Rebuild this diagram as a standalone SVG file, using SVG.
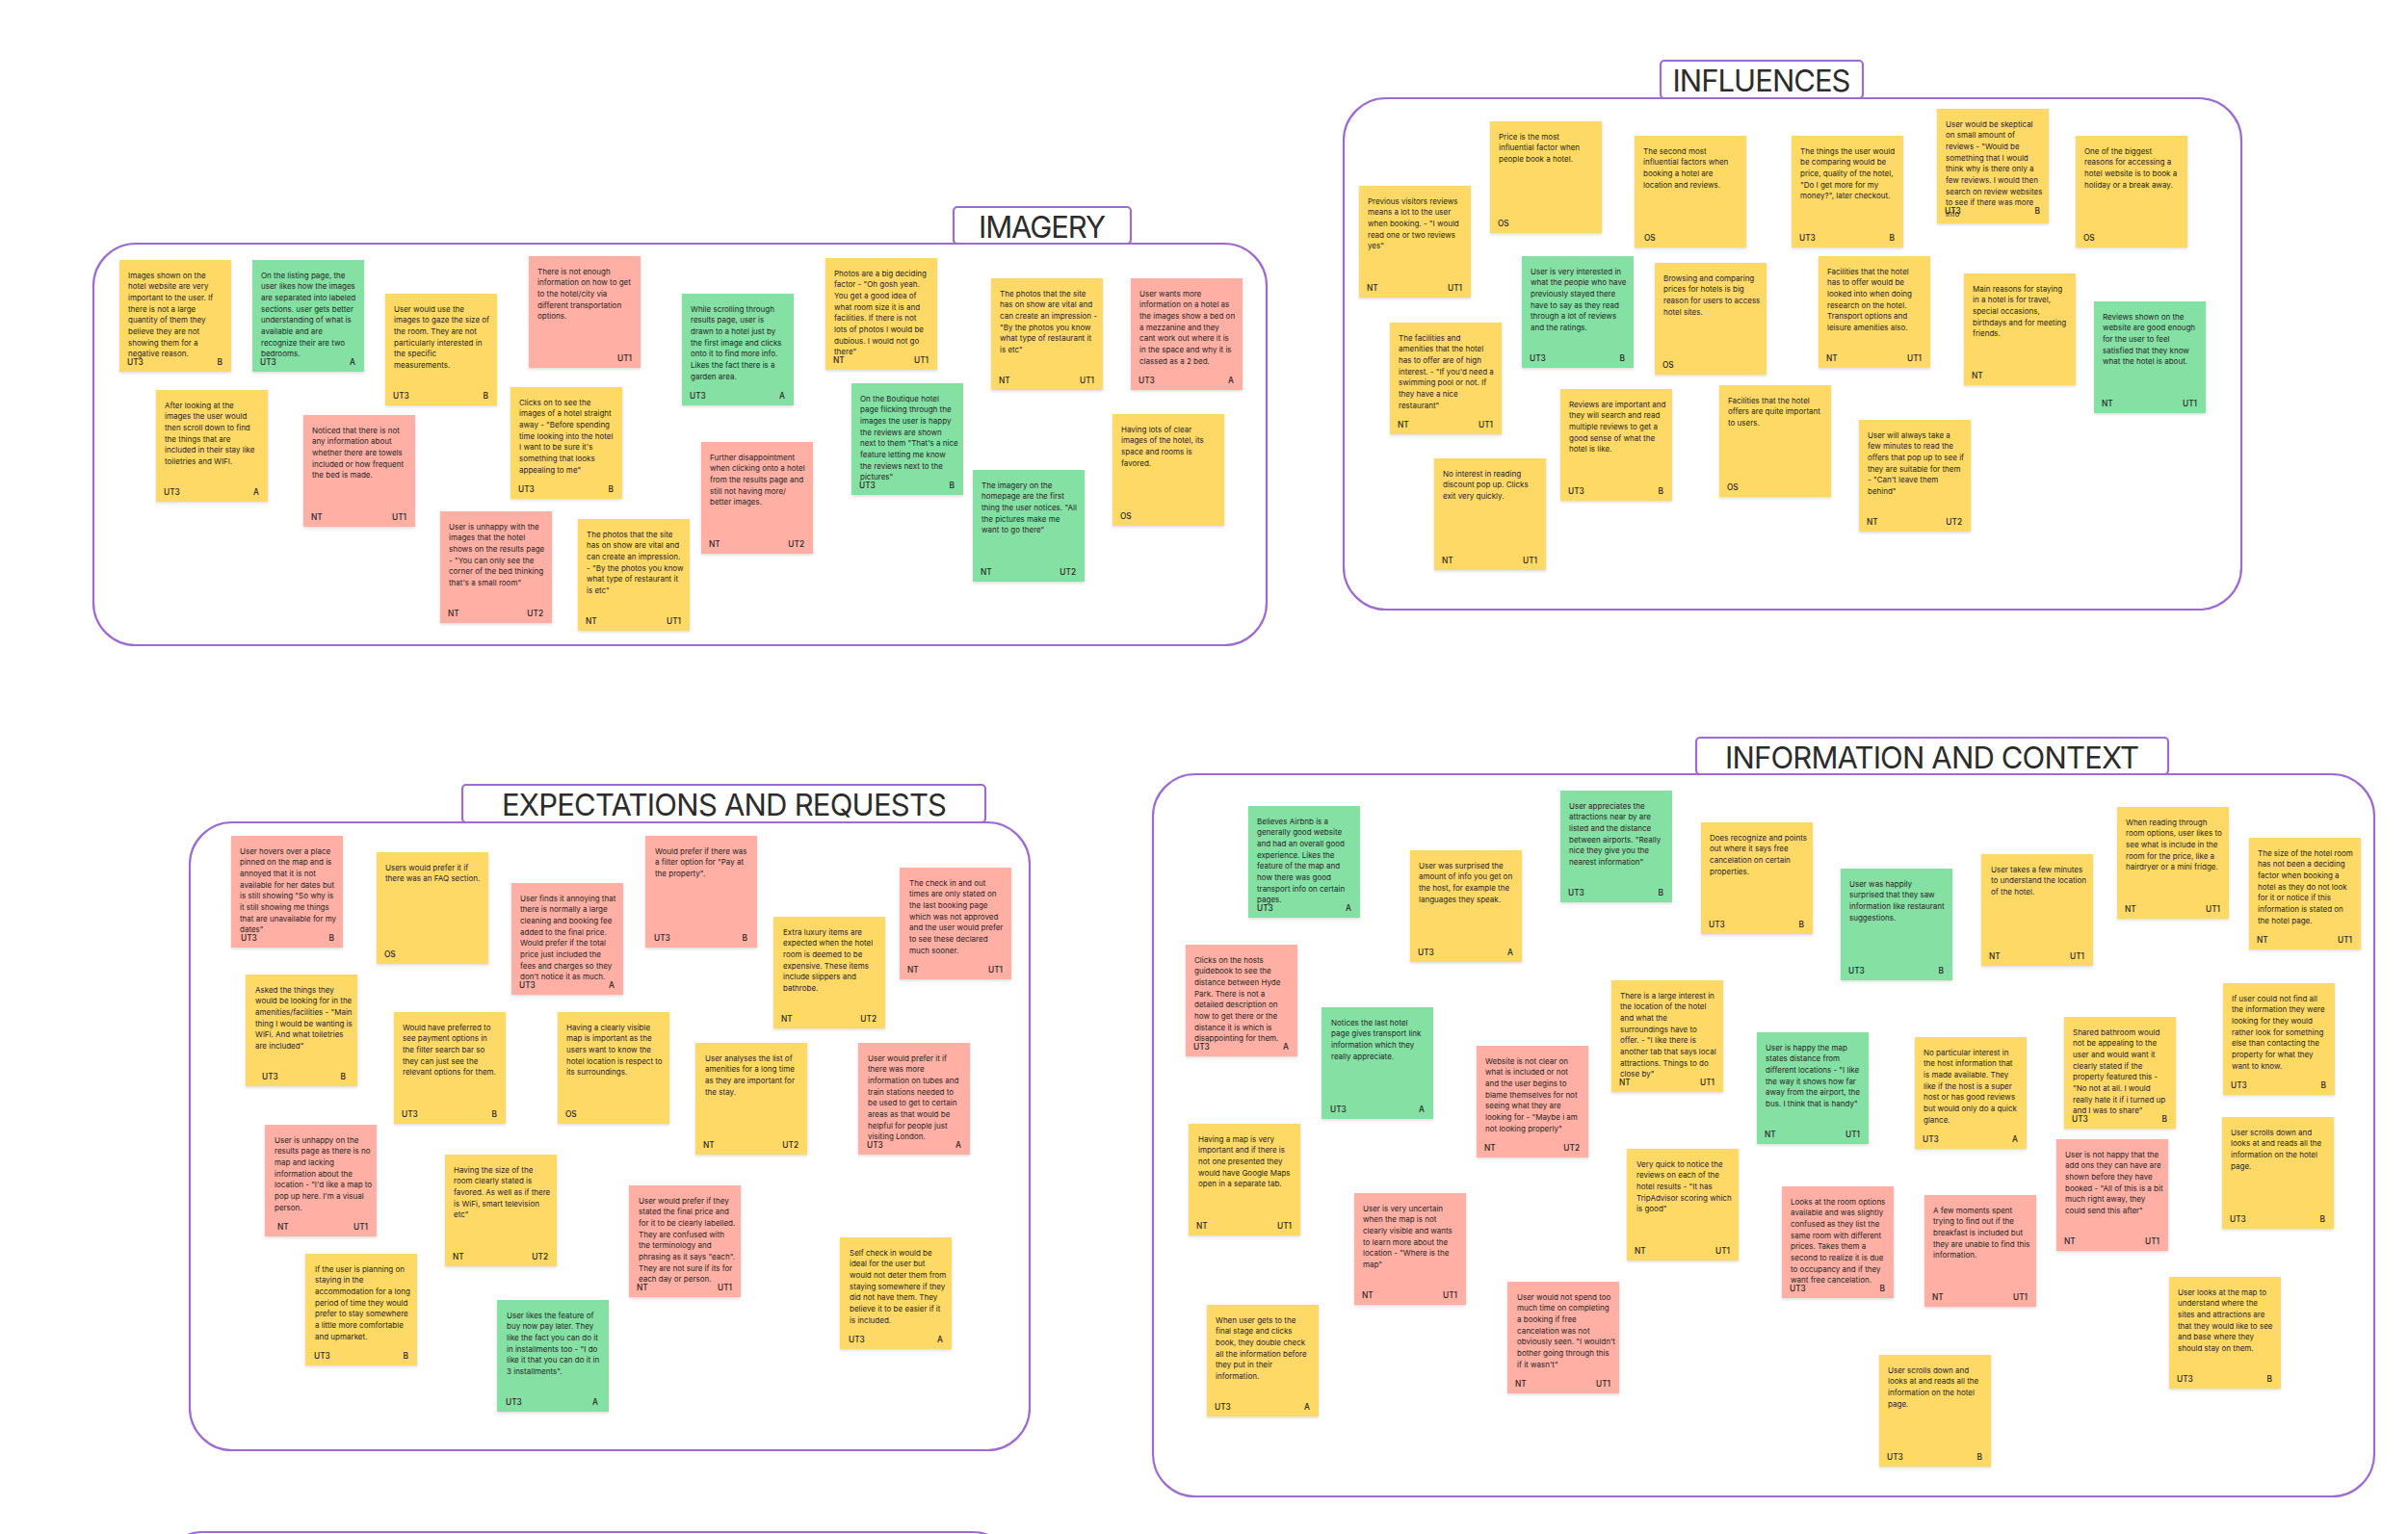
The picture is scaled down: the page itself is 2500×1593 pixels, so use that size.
<svg xmlns="http://www.w3.org/2000/svg" width="2500" height="1593" viewBox="0 0 2500 1593">
<defs>
<filter id="sh" x="-10%" y="-10%" width="125%" height="125%"><feDropShadow dx="0" dy="1.5" stdDeviation="1.4" flood-color="#000" flood-opacity="0.14"/></filter>
</defs>
<style>
.frame{fill:none;stroke:#9d6bd3;stroke-width:2.2}
.tbox{fill:#fff;stroke:#9d6bd3;stroke-width:2.2}
.title{font-family:Inter,"Liberation Sans",sans-serif;font-size:31px;fill:#2c2c2c;text-anchor:middle}
.n{filter:url(#sh)}
.y{fill:#FFD966}.g{fill:#85E0A3}.r{fill:#FFAFA3}
.t{font-family:Inter,"Liberation Sans",sans-serif;font-size:8px;fill:#262626}
.f{font-family:Inter,"Liberation Sans",sans-serif;font-size:8.3px;font-weight:500;fill:#262626}
.e{text-anchor:end}
</style>
<rect width="2500" height="1593" fill="#fff"/>

<g id="frames">
<rect class="frame" x="97" y="253" width="1218" height="417" rx="44"/>
<rect class="tbox" x="990" y="215" width="184" height="38" rx="4"/>
<text class="title" x="1082" y="246.7" textLength="132">IMAGERY</text>
<rect class="frame" x="1395" y="102" width="932" height="531" rx="44"/>
<rect class="tbox" x="1724" y="63" width="210" height="39" rx="4"/>
<text class="title" x="1829" y="94.5" textLength="185">INFLUENCES</text>
<rect class="frame" x="197" y="854" width="872" height="652" rx="44"/>
<rect class="tbox" x="480" y="815" width="543" height="39" rx="4"/>
<text class="title" x="752" y="846.6" textLength="462">EXPECTATIONS AND REQUESTS</text>
<rect class="frame" x="1197" y="804" width="1268" height="750" rx="44"/>
<rect class="tbox" x="1761" y="766" width="490" height="38" rx="4"/>
<text class="title" x="2006" y="797.5" textLength="430">INFORMATION AND CONTEXT</text>
<rect class="frame" x="170" y="1591" width="880" height="120" rx="40"/>
</g>

<g id="connectors"></g>

<!-- IMAGERY -->
<g id="im1" transform="translate(124,270)"><rect class="n y" width="116" height="116"/><text class="t"><tspan x="9" y="18.5">Images shown on the</tspan><tspan x="9" y="30.2">hotel website are very</tspan><tspan x="9" y="41.8">important to the user. If</tspan><tspan x="9" y="53.5">there is not a large</tspan><tspan x="9" y="65.2">quantity of them they</tspan><tspan x="9" y="76.8">believe they are not</tspan><tspan x="9" y="88.5">showing them for a</tspan><tspan x="9" y="100.2">negative reason.</tspan></text><text class="f" x="8" y="108.5">UT3</text><text class="f e" x="107" y="108.5">B</text></g>
<g id="im2" transform="translate(262,270)"><rect class="n g" width="116" height="116"/><text class="t"><tspan x="9" y="18.5">On the listing page, the</tspan><tspan x="9" y="30.2">user likes how the images</tspan><tspan x="9" y="41.8">are separated into labeled</tspan><tspan x="9" y="53.5">sections. user gets better</tspan><tspan x="9" y="65.2">understanding of what is</tspan><tspan x="9" y="76.8">available and are</tspan><tspan x="9" y="88.5">recognize their are two</tspan><tspan x="9" y="100.2">bedrooms.</tspan></text><text class="f" x="8" y="108.5">UT3</text><text class="f e" x="107" y="108.5">A</text></g>
<g id="im3" transform="translate(400,305)"><rect class="n y" width="116" height="116"/><text class="t"><tspan x="9" y="18.5">User would use the</tspan><tspan x="9" y="30.2">images to gaze the size of</tspan><tspan x="9" y="41.8">the room. They are not</tspan><tspan x="9" y="53.5">particularly interested in</tspan><tspan x="9" y="65.2">the specific</tspan><tspan x="9" y="76.8">measurements.</tspan></text><text class="f" x="8" y="108.5">UT3</text><text class="f e" x="107" y="108.5">B</text></g>
<g id="im4" transform="translate(549,266)"><rect class="n r" width="116" height="116"/><text class="t"><tspan x="9" y="18.5">There is not enough</tspan><tspan x="9" y="30.2">information on how to get</tspan><tspan x="9" y="41.8">to the hotel/city via</tspan><tspan x="9" y="53.5">different transportation</tspan><tspan x="9" y="65.2">options.</tspan></text><text class="f e" x="107" y="108.5">UT1</text></g>
<g id="im5" transform="translate(162,405)"><rect class="n y" width="116" height="116"/><text class="t"><tspan x="9" y="18.5">After looking at the</tspan><tspan x="9" y="30.2">images the user would</tspan><tspan x="9" y="41.8">then scroll down to find</tspan><tspan x="9" y="53.5">the things that are</tspan><tspan x="9" y="65.2">included in their stay like</tspan><tspan x="9" y="76.8">toiletries and WIFI.</tspan></text><text class="f" x="8" y="108.5">UT3</text><text class="f e" x="107" y="108.5">A</text></g>
<g id="im6" transform="translate(315,431)"><rect class="n r" width="116" height="116"/><text class="t"><tspan x="9" y="18.5">Noticed that there is not</tspan><tspan x="9" y="30.2">any information about</tspan><tspan x="9" y="41.8">whether there are towels</tspan><tspan x="9" y="53.5">included or how frequent</tspan><tspan x="9" y="65.2">the bed is made.</tspan></text><text class="f" x="8" y="108.5">NT</text><text class="f e" x="107" y="108.5">UT1</text></g>
<g id="im7" transform="translate(530,402)"><rect class="n y" width="116" height="116"/><text class="t"><tspan x="9" y="18.5">Clicks on to see the</tspan><tspan x="9" y="30.2">images of a hotel straight</tspan><tspan x="9" y="41.8">away - "Before spending</tspan><tspan x="9" y="53.5">time looking into the hotel</tspan><tspan x="9" y="65.2">I want to be sure it's</tspan><tspan x="9" y="76.8">something that looks</tspan><tspan x="9" y="88.5">appealing to me"</tspan></text><text class="f" x="8" y="108.5">UT3</text><text class="f e" x="107" y="108.5">B</text></g>
<g id="im8" transform="translate(457,531)"><rect class="n r" width="116" height="116"/><text class="t"><tspan x="9" y="18.5">User is unhappy with the</tspan><tspan x="9" y="30.2">images that the hotel</tspan><tspan x="9" y="41.8">shows on the results page</tspan><tspan x="9" y="53.5">- "You can only see the</tspan><tspan x="9" y="65.2">corner of the bed thinking</tspan><tspan x="9" y="76.8">that's a small room"</tspan></text><text class="f" x="8" y="108.5">NT</text><text class="f e" x="107" y="108.5">UT2</text></g>
<g id="im9" transform="translate(600,539)"><rect class="n y" width="116" height="116"/><text class="t"><tspan x="9" y="18.5">The photos that the site</tspan><tspan x="9" y="30.2">has on show are vital and</tspan><tspan x="9" y="41.8">can create an impression.</tspan><tspan x="9" y="53.5">- "By the photos you know</tspan><tspan x="9" y="65.2">what type of restaurant it</tspan><tspan x="9" y="76.8">is etc"</tspan></text><text class="f" x="8" y="108.5">NT</text><text class="f e" x="107" y="108.5">UT1</text></g>
<g id="im10" transform="translate(708,305)"><rect class="n g" width="116" height="116"/><text class="t"><tspan x="9" y="18.5">While scrolling through</tspan><tspan x="9" y="30.2">results page, user is</tspan><tspan x="9" y="41.8">drawn to a hotel just by</tspan><tspan x="9" y="53.5">the first image and clicks</tspan><tspan x="9" y="65.2">onto it to find more info.</tspan><tspan x="9" y="76.8">Likes the fact there is a</tspan><tspan x="9" y="88.5">garden area.</tspan></text><text class="f" x="8" y="108.5">UT3</text><text class="f e" x="107" y="108.5">A</text></g>
<g id="im11" transform="translate(857,268)"><rect class="n y" width="116" height="116"/><text class="t"><tspan x="9" y="18.5">Photos are a big deciding</tspan><tspan x="9" y="30.2">factor - "Oh gosh yeah.</tspan><tspan x="9" y="41.8">You get a good idea of</tspan><tspan x="9" y="53.5">what room size it is and</tspan><tspan x="9" y="65.2">facilities. If there is not</tspan><tspan x="9" y="76.8">lots of photos I would be</tspan><tspan x="9" y="88.5">dubious. I would not go</tspan><tspan x="9" y="100.2">there"</tspan></text><text class="f" x="8" y="108.5">NT</text><text class="f e" x="107" y="108.5">UT1</text></g>
<g id="im12" transform="translate(1029,289)"><rect class="n y" width="116" height="116"/><text class="t"><tspan x="9" y="18.5">The photos that the site</tspan><tspan x="9" y="30.2">has on show are vital and</tspan><tspan x="9" y="41.8">can create an impression -</tspan><tspan x="9" y="53.5">"By the photos you know</tspan><tspan x="9" y="65.2">what type of restaurant it</tspan><tspan x="9" y="76.8">is etc"</tspan></text><text class="f" x="8" y="108.5">NT</text><text class="f e" x="107" y="108.5">UT1</text></g>
<g id="im13" transform="translate(1174,289)"><rect class="n r" width="116" height="116"/><text class="t"><tspan x="9" y="18.5">User wants more</tspan><tspan x="9" y="30.2">information on a hotel as</tspan><tspan x="9" y="41.8">the images show a bed on</tspan><tspan x="9" y="53.5">a mezzanine and they</tspan><tspan x="9" y="65.2">cant work out where it is</tspan><tspan x="9" y="76.8">in the space and why it is</tspan><tspan x="9" y="88.5">classed as a 2 bed.</tspan></text><text class="f" x="8" y="108.5">UT3</text><text class="f e" x="107" y="108.5">A</text></g>
<g id="im14" transform="translate(884,398)"><rect class="n g" width="116" height="116"/><text class="t"><tspan x="9" y="18.5">On the Boutique hotel</tspan><tspan x="9" y="30.2">page flicking through the</tspan><tspan x="9" y="41.8">images the user is happy</tspan><tspan x="9" y="53.5">the reviews are shown</tspan><tspan x="9" y="65.2">next to them "That's a nice</tspan><tspan x="9" y="76.8">feature letting me know</tspan><tspan x="9" y="88.5">the reviews next to the</tspan><tspan x="9" y="100.2">pictures"</tspan></text><text class="f" x="8" y="108.5">UT3</text><text class="f e" x="107" y="108.5">B</text></g>
<g id="im15" transform="translate(728,459)"><rect class="n r" width="116" height="116"/><text class="t"><tspan x="9" y="18.5">Further disappointment</tspan><tspan x="9" y="30.2">when clicking onto a hotel</tspan><tspan x="9" y="41.8">from the results page and</tspan><tspan x="9" y="53.5">still not having more/</tspan><tspan x="9" y="65.2">better images.</tspan></text><text class="f" x="8" y="108.5">NT</text><text class="f e" x="107" y="108.5">UT2</text></g>
<g id="im16" transform="translate(1155,430)"><rect class="n y" width="116" height="116"/><text class="t"><tspan x="9" y="18.5">Having lots of clear</tspan><tspan x="9" y="30.2">images of the hotel, its</tspan><tspan x="9" y="41.8">space and rooms is</tspan><tspan x="9" y="53.5">favored.</tspan></text><text class="f" x="8" y="108.5">OS</text></g>
<g id="im17" transform="translate(1010,488)"><rect class="n g" width="116" height="116"/><text class="t"><tspan x="9" y="18.5">The imagery on the</tspan><tspan x="9" y="30.2">homepage are the first</tspan><tspan x="9" y="41.8">thing the user notices. "All</tspan><tspan x="9" y="53.5">the pictures make me</tspan><tspan x="9" y="65.2">want to go there"</tspan></text><text class="f" x="8" y="108.5">NT</text><text class="f e" x="107" y="108.5">UT2</text></g>

<!-- INFLUENCES -->
<g id="inf1" transform="translate(1411,193)"><rect class="n y" width="116" height="116"/><text class="t"><tspan x="9" y="18.5">Previous visitors reviews</tspan><tspan x="9" y="30.2">means a lot to the user</tspan><tspan x="9" y="41.8">when booking. - "I would</tspan><tspan x="9" y="53.5">read one or two reviews</tspan><tspan x="9" y="65.2">yes"</tspan></text><text class="f" x="8" y="108.5">NT</text><text class="f e" x="107" y="108.5">UT1</text></g>
<g id="inf2" transform="translate(1547,126)"><rect class="n y" width="116" height="116"/><text class="t"><tspan x="9" y="18.5">Price is the most</tspan><tspan x="9" y="30.2">influential factor when</tspan><tspan x="9" y="41.8">people book a hotel.</tspan></text><text class="f" x="8" y="108.5">OS</text></g>
<g id="inf3" transform="translate(1697,141)"><rect class="n y" width="116" height="116"/><text class="t"><tspan x="9" y="18.5">The second most</tspan><tspan x="9" y="30.2">influential factors when</tspan><tspan x="9" y="41.8">booking a hotel are</tspan><tspan x="9" y="53.5">location and reviews.</tspan></text><text class="f" x="10" y="108.5">OS</text></g>
<g id="inf4" transform="translate(1580,266)"><rect class="n g" width="116" height="116"/><text class="t"><tspan x="9" y="18.5">User is very interested in</tspan><tspan x="9" y="30.2">what the people who have</tspan><tspan x="9" y="41.8">previously stayed there</tspan><tspan x="9" y="53.5">have to say as they read</tspan><tspan x="9" y="65.2">through a lot of reviews</tspan><tspan x="9" y="76.8">and the ratings.</tspan></text><text class="f" x="8" y="108.5">UT3</text><text class="f e" x="107" y="108.5">B</text></g>
<g id="inf5" transform="translate(1718,273)"><rect class="n y" width="116" height="116"/><text class="t"><tspan x="9" y="18.5">Browsing and comparing</tspan><tspan x="9" y="30.2">prices for hotels is big</tspan><tspan x="9" y="41.8">reason for users to access</tspan><tspan x="9" y="53.5">hotel sites.</tspan></text><text class="f" x="8" y="108.5">OS</text></g>
<g id="inf6" transform="translate(1443,335)"><rect class="n y" width="116" height="116"/><text class="t"><tspan x="9" y="18.5">The facilities and</tspan><tspan x="9" y="30.2">amenities that the hotel</tspan><tspan x="9" y="41.8">has to offer are of high</tspan><tspan x="9" y="53.5">interest. - "If you'd need a</tspan><tspan x="9" y="65.2">swimming pool or not. If</tspan><tspan x="9" y="76.8">they have a nice</tspan><tspan x="9" y="88.5">restaurant"</tspan></text><text class="f" x="8" y="108.5">NT</text><text class="f e" x="107" y="108.5">UT1</text></g>
<g id="inf7" transform="translate(1620,404)"><rect class="n y" width="116" height="116"/><text class="t"><tspan x="9" y="18.5">Reviews are important and</tspan><tspan x="9" y="30.2">they will search and read</tspan><tspan x="9" y="41.8">multiple reviews to get a</tspan><tspan x="9" y="53.5">good sense of what the</tspan><tspan x="9" y="65.2">hotel is like.</tspan></text><text class="f" x="8" y="108.5">UT3</text><text class="f e" x="107" y="108.5">B</text></g>
<g id="inf8" transform="translate(1785,400)"><rect class="n y" width="116" height="116"/><text class="t"><tspan x="9" y="18.5">Facilities that the hotel</tspan><tspan x="9" y="30.2">offers are quite important</tspan><tspan x="9" y="41.8">to users.</tspan></text><text class="f" x="8" y="108.5">OS</text></g>
<g id="inf9" transform="translate(1489,476)"><rect class="n y" width="116" height="116"/><text class="t"><tspan x="9" y="18.5">No interest in reading</tspan><tspan x="9" y="30.2">discount pop up. Clicks</tspan><tspan x="9" y="41.8">exit very quickly.</tspan></text><text class="f" x="8" y="108.5">NT</text><text class="f e" x="107" y="108.5">UT1</text></g>
<g id="inf10" transform="translate(1860,141)"><rect class="n y" width="116" height="116"/><text class="t"><tspan x="9" y="18.5">The things the user would</tspan><tspan x="9" y="30.2">be comparing would be</tspan><tspan x="9" y="41.8">price, quality of the hotel,</tspan><tspan x="9" y="53.5">"Do I get more for my</tspan><tspan x="9" y="65.2">money?", later checkout.</tspan></text><text class="f" x="8" y="108.5">UT3</text><text class="f e" x="107" y="108.5">B</text></g>
<g id="inf11" transform="translate(2011,113)"><rect class="n y" width="116" height="119"/><text class="t"><tspan x="9" y="18.5">User would be skeptical</tspan><tspan x="9" y="30.2">on small amount of</tspan><tspan x="9" y="41.8">reviews - "Would be</tspan><tspan x="9" y="53.5">something that I would</tspan><tspan x="9" y="65.2">think why is there only a</tspan><tspan x="9" y="76.8">few reviews. I would then</tspan><tspan x="9" y="88.5">search on review websites</tspan><tspan x="9" y="100.2">to see if there was more</tspan><tspan x="9" y="111.8">info</tspan></text><text class="f" x="8" y="108.5">UT3</text><text class="f e" x="107" y="108.5">B</text></g>
<g id="inf12" transform="translate(2155,141)"><rect class="n y" width="116" height="116"/><text class="t"><tspan x="9" y="18.5">One of the biggest</tspan><tspan x="9" y="30.2">reasons for accessing a</tspan><tspan x="9" y="41.8">hotel website is to book a</tspan><tspan x="9" y="53.5">holiday or a break away.</tspan></text><text class="f" x="8" y="108.5">OS</text></g>
<g id="inf13" transform="translate(1888,266)"><rect class="n y" width="116" height="116"/><text class="t"><tspan x="9" y="18.5">Facilities that the hotel</tspan><tspan x="9" y="30.2">has to offer would be</tspan><tspan x="9" y="41.8">looked into when doing</tspan><tspan x="9" y="53.5">research on the hotel.</tspan><tspan x="9" y="65.2">Transport options and</tspan><tspan x="9" y="76.8">leisure amenities also.</tspan></text><text class="f" x="8" y="108.5">NT</text><text class="f e" x="107" y="108.5">UT1</text></g>
<g id="inf14" transform="translate(2039,284)"><rect class="n y" width="116" height="116"/><text class="t"><tspan x="9" y="18.5">Main reasons for staying</tspan><tspan x="9" y="30.2">in a hotel is for travel,</tspan><tspan x="9" y="41.8">special occasions,</tspan><tspan x="9" y="53.5">birthdays and for meeting</tspan><tspan x="9" y="65.2">friends.</tspan></text><text class="f" x="8" y="108.5">NT</text></g>
<g id="inf15" transform="translate(2174,313)"><rect class="n g" width="116" height="116"/><text class="t"><tspan x="9" y="18.5">Reviews shown on the</tspan><tspan x="9" y="30.2">website are good enough</tspan><tspan x="9" y="41.8">for the user to feel</tspan><tspan x="9" y="53.5">satisfied that they know</tspan><tspan x="9" y="65.2">what the hotel is about.</tspan></text><text class="f" x="8" y="108.5">NT</text><text class="f e" x="107" y="108.5">UT1</text></g>
<g id="inf16" transform="translate(1930,436)"><rect class="n y" width="116" height="116"/><text class="t"><tspan x="9" y="18.5">User will always take a</tspan><tspan x="9" y="30.2">few minutes to read the</tspan><tspan x="9" y="41.8">offers that pop up to see if</tspan><tspan x="9" y="53.5">they are suitable for them</tspan><tspan x="9" y="65.2">- "Can't leave them</tspan><tspan x="9" y="76.8">behind"</tspan></text><text class="f" x="8" y="108.5">NT</text><text class="f e" x="107" y="108.5">UT2</text></g>

<!-- EXPECTATIONS AND REQUESTS -->
<g id="exp1" transform="translate(240,868)"><rect class="n r" width="116" height="116"/><text class="t"><tspan x="9" y="18.5">User hovers over a place</tspan><tspan x="9" y="30.2">pinned on the map and is</tspan><tspan x="9" y="41.8">annoyed that it is not</tspan><tspan x="9" y="53.5">available for her dates but</tspan><tspan x="9" y="65.2">is still showing "So why is</tspan><tspan x="9" y="76.8">it still showing me things</tspan><tspan x="9" y="88.5">that are unavailable for my</tspan><tspan x="9" y="100.2">dates"</tspan></text><text class="f" x="10" y="108.5">UT3</text><text class="f e" x="107" y="108.5">B</text></g>
<g id="exp2" transform="translate(391,885)"><rect class="n y" width="116" height="116"/><text class="t"><tspan x="9" y="18.5">Users would prefer it if</tspan><tspan x="9" y="30.2">there was an FAQ section.</tspan></text><text class="f" x="8" y="108.5">OS</text></g>
<g id="exp3" transform="translate(531,917)"><rect class="n r" width="116" height="116"/><text class="t"><tspan x="9" y="18.5">User finds it annoying that</tspan><tspan x="9" y="30.2">there is normally a large</tspan><tspan x="9" y="41.8">cleaning and booking fee</tspan><tspan x="9" y="53.5">added to the final price.</tspan><tspan x="9" y="65.2">Would prefer if the total</tspan><tspan x="9" y="76.8">price just included the</tspan><tspan x="9" y="88.5">fees and charges so they</tspan><tspan x="9" y="100.2">don't notice it as much.</tspan></text><text class="f" x="8" y="108.5">UT3</text><text class="f e" x="107" y="108.5">A</text></g>
<g id="exp4" transform="translate(255,1012)"><rect class="n y" width="116" height="116"/><text class="t"><tspan x="10" y="18.5">Asked the things they</tspan><tspan x="10" y="30.2">would be looking for in the</tspan><tspan x="10" y="41.8">amenities/facilities - "Main</tspan><tspan x="10" y="53.5">thing I would be wanting is</tspan><tspan x="10" y="65.2">WiFi. And what toiletries</tspan><tspan x="10" y="76.8">are included"</tspan></text><text class="f" x="17" y="108.5">UT3</text><text class="f e" x="104" y="108.5">B</text></g>
<g id="exp5" transform="translate(409,1051)"><rect class="n y" width="116" height="116"/><text class="t"><tspan x="9" y="18.5">Would have preferred to</tspan><tspan x="9" y="30.2">see payment options in</tspan><tspan x="9" y="41.8">the filter search bar so</tspan><tspan x="9" y="53.5">they can just see the</tspan><tspan x="9" y="65.2">relevant options for them.</tspan></text><text class="f" x="8" y="108.5">UT3</text><text class="f e" x="107" y="108.5">B</text></g>
<g id="exp6" transform="translate(579,1051)"><rect class="n y" width="116" height="116"/><text class="t"><tspan x="9" y="18.5">Having a clearly visible</tspan><tspan x="9" y="30.2">map is important as the</tspan><tspan x="9" y="41.8">users want to know the</tspan><tspan x="9" y="53.5">hotel location is respect to</tspan><tspan x="9" y="65.2">its surroundings.</tspan></text><text class="f" x="8" y="108.5">OS</text></g>
<g id="exp7" transform="translate(275,1168)"><rect class="n r" width="116" height="116"/><text class="t"><tspan x="10" y="18.5">User is unhappy on the</tspan><tspan x="10" y="30.2">results page as there is no</tspan><tspan x="10" y="41.8">map and lacking</tspan><tspan x="10" y="53.5">information about the</tspan><tspan x="10" y="65.2">location - "I'd like a map to</tspan><tspan x="10" y="76.8">pop up here. I'm a visual</tspan><tspan x="10" y="88.5">person.</tspan></text><text class="f" x="13" y="108.5">NT</text><text class="f e" x="107" y="108.5">UT1</text></g>
<g id="exp8" transform="translate(462,1199)"><rect class="n y" width="116" height="116"/><text class="t"><tspan x="9" y="18.5">Having the size of the</tspan><tspan x="9" y="30.2">room clearly stated is</tspan><tspan x="9" y="41.8">favored. As well as if there</tspan><tspan x="9" y="53.5">is WiFi, smart television</tspan><tspan x="9" y="65.2">etc"</tspan></text><text class="f" x="8" y="108.5">NT</text><text class="f e" x="107" y="108.5">UT2</text></g>
<g id="exp9" transform="translate(317,1302)"><rect class="n y" width="116" height="116"/><text class="t"><tspan x="10" y="18.5">If the user is planning on</tspan><tspan x="10" y="30.2">staying in the</tspan><tspan x="10" y="41.8">accommodation for a long</tspan><tspan x="10" y="53.5">period of time they would</tspan><tspan x="10" y="65.2">prefer to stay somewhere</tspan><tspan x="10" y="76.8">a little more comfortable</tspan><tspan x="10" y="88.5">and upmarket.</tspan></text><text class="f" x="9" y="108.5">UT3</text><text class="f e" x="107" y="108.5">B</text></g>
<g id="exp10" transform="translate(516,1350)"><rect class="n g" width="116" height="116"/><text class="t"><tspan x="10" y="18.5">User likes the feature of</tspan><tspan x="10" y="30.2">buy now pay later. They</tspan><tspan x="10" y="41.8">like the fact you can do it</tspan><tspan x="10" y="53.5">in installments too - "I do</tspan><tspan x="10" y="65.2">like it that you can do it in</tspan><tspan x="10" y="76.8">3 installments".</tspan></text><text class="f" x="9" y="108.5">UT3</text><text class="f e" x="105" y="108.5">A</text></g>
<g id="exp11" transform="translate(670,868)"><rect class="n r" width="116" height="116"/><text class="t"><tspan x="10" y="18.5">Would prefer if there was</tspan><tspan x="10" y="30.2">a filter option for "Pay at</tspan><tspan x="10" y="41.8">the property".</tspan></text><text class="f" x="9" y="108.5">UT3</text><text class="f e" x="106" y="108.5">B</text></g>
<g id="exp12" transform="translate(803,952)"><rect class="n y" width="116" height="116"/><text class="t"><tspan x="10" y="18.5">Extra luxury items are</tspan><tspan x="10" y="30.2">expected when the hotel</tspan><tspan x="10" y="41.8">room is deemed to be</tspan><tspan x="10" y="53.5">expensive. These items</tspan><tspan x="10" y="65.2">include slippers and</tspan><tspan x="10" y="76.8">bathrobe.</tspan></text><text class="f" x="8" y="108.5">NT</text><text class="f e" x="107" y="108.5">UT2</text></g>
<g id="exp13" transform="translate(934,901)"><rect class="n r" width="116" height="116"/><text class="t"><tspan x="10" y="18.5">The check in and out</tspan><tspan x="10" y="30.2">times are only stated on</tspan><tspan x="10" y="41.8">the last booking page</tspan><tspan x="10" y="53.5">which was not approved</tspan><tspan x="10" y="65.2">and the user would prefer</tspan><tspan x="10" y="76.8">to see these declared</tspan><tspan x="10" y="88.5">much sooner.</tspan></text><text class="f" x="8" y="108.5">NT</text><text class="f e" x="107" y="108.5">UT1</text></g>
<g id="exp14" transform="translate(722,1083)"><rect class="n y" width="116" height="116"/><text class="t"><tspan x="10" y="18.5">User analyses the list of</tspan><tspan x="10" y="30.2">amenities for a long time</tspan><tspan x="10" y="41.8">as they are important for</tspan><tspan x="10" y="53.5">the stay.</tspan></text><text class="f" x="8" y="108.5">NT</text><text class="f e" x="107" y="108.5">UT2</text></g>
<g id="exp15" transform="translate(891,1083)"><rect class="n r" width="116" height="116"/><text class="t"><tspan x="10" y="18.5">User would prefer it if</tspan><tspan x="10" y="30.2">there was more</tspan><tspan x="10" y="41.8">information on tubes and</tspan><tspan x="10" y="53.5">train stations needed to</tspan><tspan x="10" y="65.2">be used to get to certain</tspan><tspan x="10" y="76.8">areas as that would be</tspan><tspan x="10" y="88.5">helpful for people just</tspan><tspan x="10" y="100.2">visiting London.</tspan></text><text class="f" x="9" y="108.5">UT3</text><text class="f e" x="107" y="108.5">A</text></g>
<g id="exp16" transform="translate(653,1231)"><rect class="n r" width="116" height="116"/><text class="t"><tspan x="10" y="18.5">User would prefer if they</tspan><tspan x="10" y="30.2">stated the final price and</tspan><tspan x="10" y="41.8">for it to be clearly labelled.</tspan><tspan x="10" y="53.5">They are confused with</tspan><tspan x="10" y="65.2">the terminology and</tspan><tspan x="10" y="76.8">phrasing as it says "each".</tspan><tspan x="10" y="88.5">They are not sure if its for</tspan><tspan x="10" y="100.2">each day or person.</tspan></text><text class="f" x="8" y="108.5">NT</text><text class="f e" x="107" y="108.5">UT1</text></g>
<g id="exp17" transform="translate(872,1285)"><rect class="n y" width="116" height="116"/><text class="t"><tspan x="10" y="18.5">Self check in would be</tspan><tspan x="10" y="30.2">ideal for the user but</tspan><tspan x="10" y="41.8">would not deter them from</tspan><tspan x="10" y="53.5">staying somewhere if they</tspan><tspan x="10" y="65.2">did not have them. They</tspan><tspan x="10" y="76.8">believe it to be easier if it</tspan><tspan x="10" y="88.5">is included.</tspan></text><text class="f" x="9" y="108.5">UT3</text><text class="f e" x="107" y="108.5">A</text></g>

<!-- INFORMATION AND CONTEXT -->
<g id="ic1" transform="translate(1296,837)"><rect class="n g" width="116" height="116"/><text class="t"><tspan x="9" y="18.5">Believes Airbnb is a</tspan><tspan x="9" y="30.2">generally good website</tspan><tspan x="9" y="41.8">and had an overall good</tspan><tspan x="9" y="53.5">experience. Likes the</tspan><tspan x="9" y="65.2">feature of the map and</tspan><tspan x="9" y="76.8">how there was good</tspan><tspan x="9" y="88.5">transport info on certain</tspan><tspan x="9" y="100.2">pages.</tspan></text><text class="f" x="9" y="108.5">UT3</text><text class="f e" x="107" y="108.5">A</text></g>
<g id="ic2" transform="translate(1464,883)"><rect class="n y" width="116" height="116"/><text class="t"><tspan x="9" y="18.5">User was surprised the</tspan><tspan x="9" y="30.2">amount of info you get on</tspan><tspan x="9" y="41.8">the host, for example the</tspan><tspan x="9" y="53.5">languages they speak.</tspan></text><text class="f" x="8" y="108.5">UT3</text><text class="f e" x="107" y="108.5">A</text></g>
<g id="ic3" transform="translate(1620,821)"><rect class="n g" width="116" height="116"/><text class="t"><tspan x="9" y="18.5">User appreciates the</tspan><tspan x="9" y="30.2">attractions near by are</tspan><tspan x="9" y="41.8">listed and the distance</tspan><tspan x="9" y="53.5">between airports. "Really</tspan><tspan x="9" y="65.2">nice they give you the</tspan><tspan x="9" y="76.8">nearest information"</tspan></text><text class="f" x="8" y="108.5">UT3</text><text class="f e" x="107" y="108.5">B</text></g>
<g id="ic4" transform="translate(1766,854)"><rect class="n y" width="116" height="116"/><text class="t"><tspan x="9" y="18.5">Does recognize and points</tspan><tspan x="9" y="30.2">out where it says free</tspan><tspan x="9" y="41.8">cancelation on certain</tspan><tspan x="9" y="53.5">properties.</tspan></text><text class="f" x="8" y="108.5">UT3</text><text class="f e" x="107" y="108.5">B</text></g>
<g id="ic5" transform="translate(1231,981)"><rect class="n r" width="116" height="116"/><text class="t"><tspan x="9" y="18.5">Clicks on the hosts</tspan><tspan x="9" y="30.2">guidebook to see the</tspan><tspan x="9" y="41.8">distance between Hyde</tspan><tspan x="9" y="53.5">Park. There is not a</tspan><tspan x="9" y="65.2">detailed description on</tspan><tspan x="9" y="76.8">how to get there or the</tspan><tspan x="9" y="88.5">distance it is which is</tspan><tspan x="9" y="100.2">disappointing for them.</tspan></text><text class="f" x="8" y="108.5">UT3</text><text class="f e" x="107" y="108.5">A</text></g>
<g id="ic6" transform="translate(1372,1046)"><rect class="n g" width="116" height="116"/><text class="t"><tspan x="10" y="18.5">Notices the last hotel</tspan><tspan x="10" y="30.2">page gives transport link</tspan><tspan x="10" y="41.8">information which they</tspan><tspan x="10" y="53.5">really appreciate.</tspan></text><text class="f" x="9" y="108.5">UT3</text><text class="f e" x="107" y="108.5">A</text></g>
<g id="ic7" transform="translate(1533,1086)"><rect class="n r" width="116" height="116"/><text class="t"><tspan x="9" y="18.5">Website is not clear on</tspan><tspan x="9" y="30.2">what is included or not</tspan><tspan x="9" y="41.8">and the user begins to</tspan><tspan x="9" y="53.5">blame themselves for not</tspan><tspan x="9" y="65.2">seeing what they are</tspan><tspan x="9" y="76.8">looking for - "Maybe i am</tspan><tspan x="9" y="88.5">not looking properly"</tspan></text><text class="f" x="8" y="108.5">NT</text><text class="f e" x="107" y="108.5">UT2</text></g>
<g id="ic8" transform="translate(1673,1018)"><rect class="n y" width="116" height="116"/><text class="t"><tspan x="9" y="18.5">There is a large interest in</tspan><tspan x="9" y="30.2">the location of the hotel</tspan><tspan x="9" y="41.8">and what the</tspan><tspan x="9" y="53.5">surroundings have to</tspan><tspan x="9" y="65.2">offer. - "I like there is</tspan><tspan x="9" y="76.8">another tab that says local</tspan><tspan x="9" y="88.5">attractions. Things to do</tspan><tspan x="9" y="100.2">close by"</tspan></text><text class="f" x="8" y="108.5">NT</text><text class="f e" x="107" y="108.5">UT1</text></g>
<g id="ic9" transform="translate(1824,1072)"><rect class="n g" width="116" height="116"/><text class="t"><tspan x="9" y="18.5">User is happy the map</tspan><tspan x="9" y="30.2">states distance from</tspan><tspan x="9" y="41.8">different locations - "I like</tspan><tspan x="9" y="53.5">the way it shows how far</tspan><tspan x="9" y="65.2">away from the airport, the</tspan><tspan x="9" y="76.8">bus. I think that is handy"</tspan></text><text class="f" x="8" y="108.5">NT</text><text class="f e" x="107" y="108.5">UT1</text></g>
<g id="ic10" transform="translate(1911,902)"><rect class="n g" width="116" height="116"/><text class="t"><tspan x="9" y="18.5">User was happily</tspan><tspan x="9" y="30.2">surprised that they saw</tspan><tspan x="9" y="41.8">information like restaurant</tspan><tspan x="9" y="53.5">suggestions.</tspan></text><text class="f" x="8" y="108.5">UT3</text><text class="f e" x="107" y="108.5">B</text></g>
<g id="ic11" transform="translate(2057,887)"><rect class="n y" width="116" height="116"/><text class="t"><tspan x="10" y="18.5">User takes a few minutes</tspan><tspan x="10" y="30.2">to understand the location</tspan><tspan x="10" y="41.8">of the hotel.</tspan></text><text class="f" x="8" y="108.5">NT</text><text class="f e" x="107" y="108.5">UT1</text></g>
<g id="ic12" transform="translate(2198,838)"><rect class="n y" width="116" height="116"/><text class="t"><tspan x="9" y="18.5">When reading through</tspan><tspan x="9" y="30.2">room options, user likes to</tspan><tspan x="9" y="41.8">see what is include in the</tspan><tspan x="9" y="53.5">room for the price, like a</tspan><tspan x="9" y="65.2">hairdryer or a mini fridge.</tspan></text><text class="f" x="8" y="108.5">NT</text><text class="f e" x="107" y="108.5">UT1</text></g>
<g id="ic13" transform="translate(2335,870)"><rect class="n y" width="116" height="116"/><text class="t"><tspan x="9" y="18.5">The size of the hotel room</tspan><tspan x="9" y="30.2">has not been a deciding</tspan><tspan x="9" y="41.8">factor when booking a</tspan><tspan x="9" y="53.5">hotel as they do not look</tspan><tspan x="9" y="65.2">for it or notice if this</tspan><tspan x="9" y="76.8">information is stated on</tspan><tspan x="9" y="88.5">the hotel page.</tspan></text><text class="f" x="8" y="108.5">NT</text><text class="f e" x="107" y="108.5">UT1</text></g>
<g id="ic14" transform="translate(1988,1077)"><rect class="n y" width="116" height="116"/><text class="t"><tspan x="9" y="18.5">No particular interest in</tspan><tspan x="9" y="30.2">the host information that</tspan><tspan x="9" y="41.8">is made available. They</tspan><tspan x="9" y="53.5">like if the host is a super</tspan><tspan x="9" y="65.2">host or has good reviews</tspan><tspan x="9" y="76.8">but would only do a quick</tspan><tspan x="9" y="88.5">glance.</tspan></text><text class="f" x="8" y="108.5">UT3</text><text class="f e" x="107" y="108.5">A</text></g>
<g id="ic15" transform="translate(2143,1056)"><rect class="n y" width="116" height="116"/><text class="t"><tspan x="9" y="18.5">Shared bathroom would</tspan><tspan x="9" y="30.2">not be appealing to the</tspan><tspan x="9" y="41.8">user and would want it</tspan><tspan x="9" y="53.5">clearly stated if the</tspan><tspan x="9" y="65.2">property featured this -</tspan><tspan x="9" y="76.8">"No not at all. I would</tspan><tspan x="9" y="88.5">really hate it if i turned up</tspan><tspan x="9" y="100.2">and I was to share"</tspan></text><text class="f" x="8" y="108.5">UT3</text><text class="f e" x="107" y="108.5">B</text></g>
<g id="ic16" transform="translate(2308,1021)"><rect class="n y" width="116" height="116"/><text class="t"><tspan x="9" y="18.5">If user could not find all</tspan><tspan x="9" y="30.2">the information they were</tspan><tspan x="9" y="41.8">looking for they would</tspan><tspan x="9" y="53.5">rather look for something</tspan><tspan x="9" y="65.2">else than contacting the</tspan><tspan x="9" y="76.8">property for what they</tspan><tspan x="9" y="88.5">want to know.</tspan></text><text class="f" x="8" y="108.5">UT3</text><text class="f e" x="107" y="108.5">B</text></g>
<g id="ic17" transform="translate(2307,1160)"><rect class="n y" width="116" height="116"/><text class="t"><tspan x="9" y="18.5">User scrolls down and</tspan><tspan x="9" y="30.2">looks at and reads  all the</tspan><tspan x="9" y="41.8">information on the hotel</tspan><tspan x="9" y="53.5">page.</tspan></text><text class="f" x="8" y="108.5">UT3</text><text class="f e" x="107" y="108.5">B</text></g>
<g id="ic18" transform="translate(1234,1167)"><rect class="n y" width="116" height="116"/><text class="t"><tspan x="10" y="18.5">Having a map is very</tspan><tspan x="10" y="30.2">important and if there is</tspan><tspan x="10" y="41.8">not one presented they</tspan><tspan x="10" y="53.5">would have Google Maps</tspan><tspan x="10" y="65.2">open in a separate tab.</tspan></text><text class="f" x="8" y="108.5">NT</text><text class="f e" x="107" y="108.5">UT1</text></g>
<g id="ic19" transform="translate(1406,1239)"><rect class="n r" width="116" height="116"/><text class="t"><tspan x="9" y="18.5">User is very uncertain</tspan><tspan x="9" y="30.2">when the map is not</tspan><tspan x="9" y="41.8">clearly visible and wants</tspan><tspan x="9" y="53.5">to learn more about the</tspan><tspan x="9" y="65.2">location - "Where is the</tspan><tspan x="9" y="76.8">map"</tspan></text><text class="f" x="8" y="108.5">NT</text><text class="f e" x="107" y="108.5">UT1</text></g>
<g id="ic20" transform="translate(1689,1193)"><rect class="n y" width="116" height="116"/><text class="t"><tspan x="10" y="18.5">Very quick to notice the</tspan><tspan x="10" y="30.2">reviews on each of the</tspan><tspan x="10" y="41.8">hotel results - "It has</tspan><tspan x="10" y="53.5">TripAdvisor scoring which</tspan><tspan x="10" y="65.2">is good"</tspan></text><text class="f" x="8" y="108.5">NT</text><text class="f e" x="107" y="108.5">UT1</text></g>
<g id="ic21" transform="translate(1253,1355)"><rect class="n y" width="116" height="116"/><text class="t"><tspan x="9" y="18.5">When user gets to the</tspan><tspan x="9" y="30.2">final stage and clicks</tspan><tspan x="9" y="41.8">book, they double check</tspan><tspan x="9" y="53.5">all the information before</tspan><tspan x="9" y="65.2">they put in their</tspan><tspan x="9" y="76.8">information.</tspan></text><text class="f" x="8" y="108.5">UT3</text><text class="f e" x="107" y="108.5">A</text></g>
<g id="ic22" transform="translate(1565,1331)"><rect class="n r" width="116" height="116"/><text class="t"><tspan x="10" y="18.5">User would not spend too</tspan><tspan x="10" y="30.2">much time on completing</tspan><tspan x="10" y="41.8">a booking if free</tspan><tspan x="10" y="53.5">cancelation was not</tspan><tspan x="10" y="65.2">obviously seen. "I wouldn't</tspan><tspan x="10" y="76.8">bother going through this</tspan><tspan x="10" y="88.5">if it wasn't"</tspan></text><text class="f" x="8" y="108.5">NT</text><text class="f e" x="107" y="108.5">UT1</text></g>
<g id="ic23" transform="translate(1850,1232)"><rect class="n r" width="116" height="116"/><text class="t"><tspan x="9" y="18.5">Looks at the room options</tspan><tspan x="9" y="30.2">available and was slightly</tspan><tspan x="9" y="41.8">confused as they list the</tspan><tspan x="9" y="53.5">same room with different</tspan><tspan x="9" y="65.2">prices. Takes them a</tspan><tspan x="9" y="76.8">second to realize it is due</tspan><tspan x="9" y="88.5">to occupancy and if they</tspan><tspan x="9" y="100.2">want free cancelation.</tspan></text><text class="f" x="8" y="108.5">UT3</text><text class="f e" x="107" y="108.5">B</text></g>
<g id="ic24" transform="translate(1998,1241)"><rect class="n r" width="116" height="116"/><text class="t"><tspan x="9" y="18.5">A few moments spent</tspan><tspan x="9" y="30.2">trying to find out if the</tspan><tspan x="9" y="41.8">breakfast is included but</tspan><tspan x="9" y="53.5">they are unable to find this</tspan><tspan x="9" y="65.2">information.</tspan></text><text class="f" x="8" y="108.5">NT</text><text class="f e" x="107" y="108.5">UT1</text></g>
<g id="ic25" transform="translate(2135,1183)"><rect class="n r" width="116" height="116"/><text class="t"><tspan x="9" y="18.5">User is not happy that the</tspan><tspan x="9" y="30.2">add ons they can have are</tspan><tspan x="9" y="41.8">shown before they have</tspan><tspan x="9" y="53.5">booked - "All of this is a bit</tspan><tspan x="9" y="65.2">much right away, they</tspan><tspan x="9" y="76.8">could send this after"</tspan></text><text class="f" x="8" y="108.5">NT</text><text class="f e" x="107" y="108.5">UT1</text></g>
<g id="ic26" transform="translate(2252,1326)"><rect class="n y" width="116" height="116"/><text class="t"><tspan x="9" y="18.5">User looks at the map  to</tspan><tspan x="9" y="30.2">understand where the</tspan><tspan x="9" y="41.8">sites and attractions are</tspan><tspan x="9" y="53.5">that they would like to see</tspan><tspan x="9" y="65.2">and base where they</tspan><tspan x="9" y="76.8">should stay on them.</tspan></text><text class="f" x="8" y="108.5">UT3</text><text class="f e" x="107" y="108.5">B</text></g>
<g id="ic27" transform="translate(1951,1407)"><rect class="n y" width="116" height="116"/><text class="t"><tspan x="9" y="18.5">User scrolls down and</tspan><tspan x="9" y="30.2">looks at and reads all the</tspan><tspan x="9" y="41.8">information on the hotel</tspan><tspan x="9" y="53.5">page.</tspan></text><text class="f" x="8" y="108.5">UT3</text><text class="f e" x="107" y="108.5">B</text></g>
</svg>
